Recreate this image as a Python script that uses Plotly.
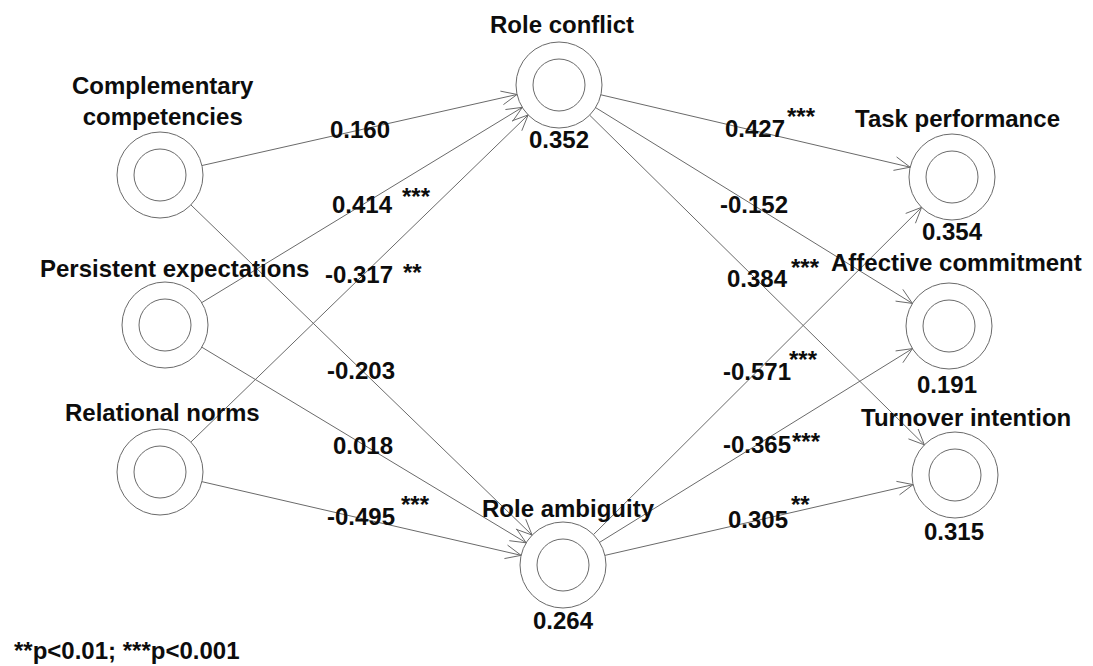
import math
import plotly.graph_objects as go

# ---------------- data ----------------
node_names = [
    "Complementary<br>competencies",
    "Persistent expectations",
    "Relational norms",
    "Role conflict",
    "Role ambiguity",
    "Task performance",
    "Affective commitment",
    "Turnover intention",
]
node_r2 = [None, None, None, "0.352", "0.264", "0.354", "0.191", "0.315"]

path_from = [0, 1, 2, 0, 1, 2, 3, 3, 3, 4, 4, 4]
path_to = [3, 3, 3, 4, 4, 4, 5, 6, 7, 5, 6, 7]
path_coef = ["0.160", "0.414", "-0.317", "-0.203", "0.018", "-0.495",
             "0.427", "-0.152", "0.384", "-0.571", "-0.365", "0.305"]
path_sig = ["", "***", "**", "", "", "***",
            "***", "", "***", "***", "***", "**"]

footnote = "**p<0.01; ***p<0.001"

# ---------------- layout (pixel-like data coordinates) ----------------
W, H = 1093, 666
node_xy = [(160, 175), (165, 325), (160, 472), (559, 85), (563, 565),
           (952, 177), (949, 326), (955, 475)]
R_OUT, R_IN = 43, 26
name_xy = [(163, 101), (174, 268), (162, 412), (562, 24), (568, 508),
           (957, 118), (956, 262), (966, 417)]
r2_xy = [None, None, None, (559, 139), (563, 620), (952, 231), (947, 384), (954, 531)]
coef_xy = [(360, 129), (362, 204), (359, 274), (361, 370), (363, 445), (361, 516),
           (755, 128), (754, 204), (757, 278), (757, 371), (757, 444), (758, 519)]
sig_xy = [None, (416, 192), (412, 268), None, None, (415, 500),
          (801, 112), None, (805, 263), (803, 355), (806, 437), (800, 500)]

LINE_COL = "#6a6a6a"
TEXT_COL = "#0d0d0d"
FONT = "Liberation Sans, Arial, sans-serif"
FS = 24
TEXT_DY = 0

# ---------------- build lines & arrowheads ----------------
xs, ys = [], []
HEAD_LEN, HEAD_ANG = 17, math.radians(24)
for f, t in zip(path_from, path_to):
    (x0, y0), (x1, y1) = node_xy[f], node_xy[t]
    d = math.hypot(x1 - x0, y1 - y0)
    ux, uy = (x1 - x0) / d, (y1 - y0) / d
    sx, sy = x0 + ux * R_OUT, y0 + uy * R_OUT
    ex, ey = x1 - ux * R_OUT, y1 - uy * R_OUT
    xs += [sx, ex, None]
    ys += [sy, ey, None]
    ang = math.atan2(-uy, -ux)
    for s in (1, -1):
        a = ang + s * HEAD_ANG
        xs += [ex, ex + HEAD_LEN * math.cos(a), None]
        ys += [ey, ey + HEAD_LEN * math.sin(a), None]

fig = go.Figure()
fig.add_trace(go.Scatter(x=xs, y=ys, mode="lines",
                         line=dict(color=LINE_COL, width=1),
                         hoverinfo="skip", showlegend=False))

shapes = []
for (cx, cy) in node_xy:
    for r in (R_OUT, R_IN):
        shapes.append(dict(type="circle", xref="x", yref="y",
                           x0=cx - r, x1=cx + r, y0=cy - r, y1=cy + r,
                           line=dict(color=LINE_COL, width=1),
                           fillcolor="rgba(0,0,0,0)", layer="above"))

annotations = []


def txt(x, y, s, size=FS, xanchor="center"):
    annotations.append(dict(x=x, y=y + TEXT_DY, xref="x", yref="y", text=s,
                            showarrow=False, xanchor=xanchor, yanchor="middle",
                            font=dict(family=FONT, size=size, color=TEXT_COL,
                                      weight="bold")))


for i, name in enumerate(node_names):
    nx, ny = name_xy[i]
    txt(nx, ny, name)
    if node_r2[i] is not None:
        rx, ry = r2_xy[i]
        txt(rx, ry, node_r2[i])

STAR_DY = 4.5
for i, c in enumerate(path_coef):
    cx, cy = coef_xy[i]
    txt(cx, cy, c)
    if path_sig[i]:
        sx, sy = sig_xy[i]
        txt(sx, sy + STAR_DY, path_sig[i])

txt(12, 650, footnote, xanchor="left")

fig.update_layout(
    width=W, height=H, autosize=False,
    margin=dict(l=0, r=0, t=0, b=0),
    paper_bgcolor="white", plot_bgcolor="white",
    xaxis=dict(range=[0, W], visible=False, fixedrange=True),
    yaxis=dict(range=[H, 0], visible=False, fixedrange=True),
    shapes=shapes, annotations=annotations,
)
fig.write_html("out.html",
               config={"displayModeBar": False, "staticPlot": True},
               post_script="document.body.style.margin='0';document.body.style.overflow='hidden';")
